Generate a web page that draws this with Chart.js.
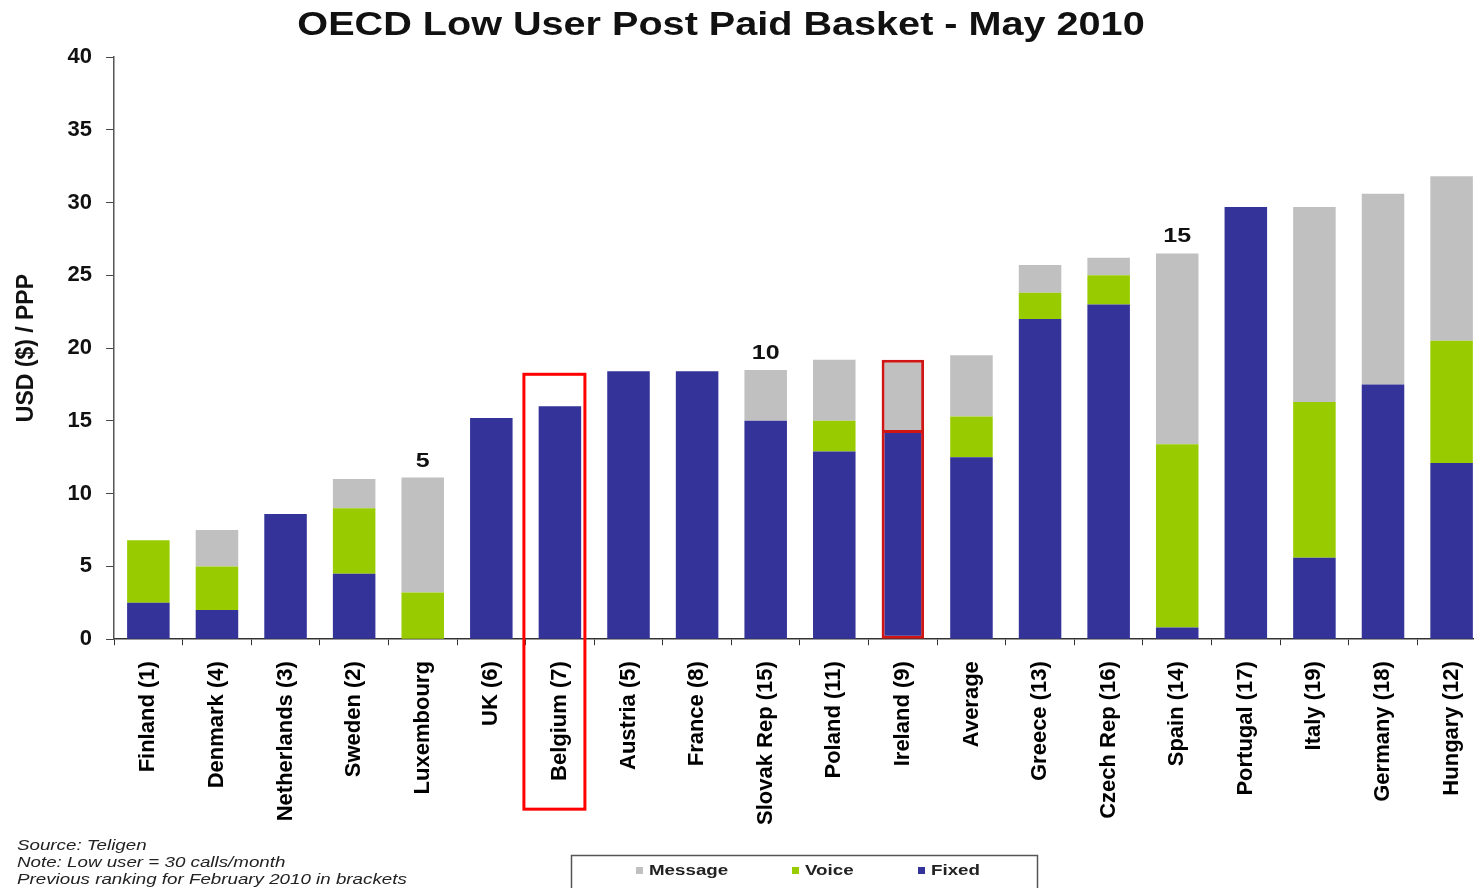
<!DOCTYPE html>
<html>
<head>
<meta charset="utf-8">
<script src="https://cdn.jsdelivr.net/npm/chart.js@4/dist/chart.umd.min.js"></script>
<style>
html, body { margin: 0; padding: 0; background: #ffffff; overflow: hidden; }
#wrap { position: relative; width: 1494px; height: 888px; }
</style>
</head>
<body>
<div id="wrap"><canvas id="c"></canvas></div>
<script>
// ---- Data ----
const categories = ['Finland (1)', 'Denmark (4)', 'Netherlands (3)', 'Sweden (2)', 'Luxembourg', 'UK (6)', 'Belgium (7)', 'Austria (5)', 'France (8)', 'Slovak Rep (15)', 'Poland (11)', 'Ireland (9)', 'Average', 'Greece (13)', 'Czech Rep (16)', 'Spain (14)', 'Portugal (17)', 'Italy (19)', 'Germany (18)', 'Hungary (12)'];
const fixedValues   = [2.5, 2.0, 8.6, 4.5, 0.0, 15.2, 16.0, 18.4, 18.4, 15.0, 12.9, 14.3, 12.5, 22.0, 23.0, 0.8, 29.7, 5.6, 17.5, 12.1];
const voiceValues   = [4.3, 3.0, 0.0, 4.5, 3.2, 0.0, 0.0, 0.0, 0.0, 0.0, 2.1, 0.0, 2.8, 1.8, 2.0, 12.6, 0.0, 10.7, 0.0, 8.4];
const messageValues = [0.0, 2.5, 0.0, 2.0, 7.9, 0.0, 0.0, 0.0, 0.0, 3.5, 4.2, 4.9, 4.2, 1.9, 1.2, 13.1, 0.0, 13.4, 13.1, 11.3];
const seriesNames = ['Fixed', 'Voice', 'Message'];
const legendOrder = ['Message', 'Voice', 'Fixed'];
const yTickLabels = [0, 5, 10, 15, 20, 25, 30, 35, 40];
const rankMarkers = ['', '', '', '', '5', '', '', '', '', '10', '', '', '', '', '', '15', '', '', '', ''];
const boxedCategory = 'Belgium (7)';
const outlinedCategory = 'Ireland (9)';
const titleText = 'OECD Low User Post Paid Basket - May 2010';
const yAxisTitle = 'USD ($) / PPP';
const footnotes = ['Source: Teligen', 'Note: Low user = 30 calls/month', 'Previous ranking for February 2010 in brackets'];

// ---- Styles ----
const colors = { Fixed: '#333399', Voice: '#99CC00', Message: '#C0C0C0' };
const FONT = '"Liberation Sans", Arial, Helvetica, sans-serif';
const outlineRed = '#d01515';

function totalAt(i) { return fixedValues[i] + voiceValues[i] + messageValues[i]; }

function stretchedText(ctx, text, x, y, font, sx, color, align, baseline) {
  ctx.save();
  ctx.translate(x, y);
  ctx.scale(sx, 1);
  ctx.font = font;
  ctx.fillStyle = color;
  ctx.textAlign = align;
  ctx.textBaseline = baseline;
  ctx.fillText(text, 0, 0);
  ctx.restore();
}

const overlay = {
  id: 'overlay',
  afterDraw(chart) {
    const { ctx, chartArea, scales } = chart;
    const x = scales.x, y = scales.y;
    ctx.save();
    // Title
    stretchedText(ctx, titleText, 721, 26, 'bold 33px ' + FONT, 1.2, '#111', 'center', 'middle');

    // Rank markers above bars
    rankMarkers.forEach((m, i) => {
      if (!m) return;
      const px = x.getPixelForValue(i);
      const py = y.getPixelForValue(totalAt(i)) - 11;
      stretchedText(ctx, m, px, py, 'bold 20px ' + FONT, 1.25, '#111', 'center', 'alphabetic');
    });

    // Red box around highlighted category (bar + label)
    const bi = categories.indexOf(boxedCategory);
    if (bi >= 0) {
      const cx = x.getPixelForValue(bi);
      const top = y.getPixelForValue(totalAt(bi)) - 32;
      const bottom = chartArea.bottom + 170;
      ctx.strokeStyle = '#ff0000';
      ctx.lineWidth = 3;
      ctx.strokeRect(cx - 36, top, 61, bottom - top);
    }

    // Legend box
    ctx.strokeStyle = '#555';
    ctx.lineWidth = 1.5;
    ctx.strokeRect(571.5, 855.5, 466, 40);
    const legendX = { Message: 636, Voice: 792, Fixed: 918 };
    legendOrder.forEach(name => {
      const lx = legendX[name];
      ctx.fillStyle = colors[name];
      ctx.fillRect(lx, 867, 7, 7);
      stretchedText(ctx, name, lx + 13, 871, 'bold 15px ' + FONT, 1.25, '#222', 'left', 'middle');
    });

    // Footnotes
    footnotes.forEach((t, k) => {
      stretchedText(ctx, t, 17, 846 + k * 17, 'italic 15px ' + FONT, 1.25, '#222', 'left', 'middle');
    });
    ctx.restore();
  }
};

const isOutlined = c => categories[c.dataIndex] === outlinedCategory;
const outlineColor = c => isOutlined(c) ? outlineRed : 'rgba(0,0,0,0)';
const fixedOutline = c => isOutlined(c) ? { left: 3, right: 3, bottom: 3, top: 2 } : 0;
const messageOutline = c => isOutlined(c) ? { left: 3, right: 3, top: 3, bottom: 1 } : 0;

const valuesByName = { Fixed: fixedValues, Voice: voiceValues, Message: messageValues };
const borderByName = { Fixed: fixedOutline, Voice: 0, Message: messageOutline };
const datasets = seriesNames.map(name => ({
  label: name,
  data: valuesByName[name],
  backgroundColor: colors[name],
  borderColor: name === 'Voice' ? 'rgba(0,0,0,0)' : outlineColor,
  borderWidth: borderByName[name],
  borderSkipped: false,
  categoryPercentage: 1.0,
  barPercentage: 0.62
}));

new Chart(document.getElementById('c'), {
  type: 'bar',
  data: { labels: categories, datasets },
  plugins: [overlay],
  options: {
    responsive: true,
    maintainAspectRatio: false,
    animation: false,
    layout: { padding: { top: 57, left: 0, right: 0, bottom: 47 } },
    plugins: {
      legend: { display: false },
      title: { display: false },
      tooltip: { enabled: false }
    },
    scales: {
      x: {
        stacked: true,
        grid: { display: true, drawOnChartArea: false, drawTicks: true, tickLength: 6, color: '#333', offset: true },
        border: { display: true, color: '#333', width: 1.5 },
        ticks: {
          autoSkip: false, maxRotation: 90, minRotation: 90, padding: 16,
          color: '#000', font: { family: FONT, size: 22, weight: 'bold' }
        }
      },
      y: {
        stacked: true,
        min: 0, max: 40,
        afterBuildTicks: axis => { axis.ticks = yTickLabels.map(v => ({ value: v })); },
        grid: { display: true, drawOnChartArea: false, drawTicks: true, tickLength: 8, color: '#444' },
        border: { display: true, color: '#555', width: 1.5 },
        ticks: { padding: 14, color: '#111', font: { family: FONT, size: 22, weight: 'bold' } },
        title: {
          display: true, text: yAxisTitle, color: '#111',
          font: { family: FONT, size: 23, weight: 'bold' },
          padding: { top: 13, bottom: 13 }
        }
      }
    }
  }
});
</script>
</body>
</html>
